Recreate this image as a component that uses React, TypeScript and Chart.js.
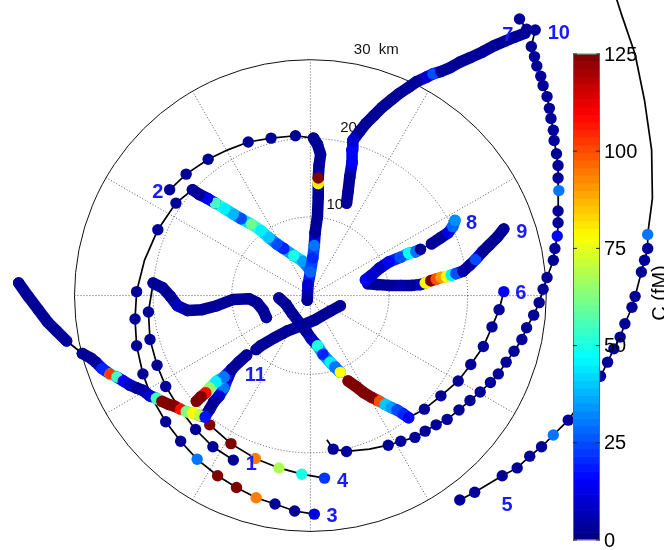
import { useEffect, useRef } from 'react';
import { Chart, registerables } from 'chart.js';

Chart.register(...registerables);

// Each point: [east km, north km, C (fM)]; null C = path vertex without marker
type P = [number, number, number | null];

const track1Dense: P[] = [[-5.6,-2.8,3],[-6.0,-1.9,3],[-6.8,-0.9,3],[-7.8,-0.4,3],[-9.8,-0.5,3],[-11.9,-1.3,3],[-13.8,-1.8,3],[-15.6,-1.9,3],[-16.9,-1.3,8],[-17.8,-0.1,3],[-18.8,1.0,3],[-20.0,1.6,3]];
const track1Arc: P[] = [[-20.6,-2.1,3],[-20.4,-5.6,3],[-19.5,-8.9,3],[-18.4,-11.6,3],[-16.6,-14.5,null],[-14.6,-17.1,3],[-12.4,-19.3,3],[-9.8,-21.0,3]];

const track2Dense: P[] = [[-0.4,-0.6,3],[-0.3,1.4,10],[0,3.0,28],[0.3,4.8,20],[0.5,6.4,30],[0.6,8.0,3],[0.9,10.1,3],[1.0,12.6,3],[1.0,14.3,80],[1.0,15.0,125],[1.1,16.6,3],[1.3,18.0,3],[0.9,19.3,3],[0.4,20.1,3]];
const track2Arc: P[] = [[-1.9,20.4,3],[-5.0,20.1,3],[-7.9,19.6,3],[-10.5,18.6,null],[-13.0,17.4,3],[-15.8,15.5,3],[-17.9,13.5,3]];

const track3Dense: P[] = [[-0.3,3.6,30],[-1.0,4.4,35],[-2.1,5.1,50],[-3.4,6.0,20],[-4.3,6.6,25],[-5.3,7.4,40],[-6.3,8.3,45],[-7.5,9.1,60],[-8.8,9.8,25],[-9.8,10.4,38],[-10.9,11.1,45],[-12.1,11.8,55],[-13.1,12.4,15],[-14.1,12.9,3],[-15.0,13.5,3]];
const track3Arc: P[] = [[-17.1,11.8,3],[-19.4,8.4,3],[-21.1,4.5,null],[-22.1,0.5,3],[-22.3,-3.0,3],[-22.1,-6.4,3],[-21.3,-10.0,3],[-20.2,-13.0,null],[-18.4,-16.1,3],[-16.5,-18.6,3],[-14.4,-20.9,30],[-11.8,-23.0,125],[-9.4,-24.5,125],[-6.9,-25.8,94],[-4.5,-26.6,3],[-2.0,-27.5,3],[0.5,-27.9,12]];

const track4DenseA: P[] = [[-37.1,1.6,3],[-35.9,-0.1,3],[-34.6,-1.8,3],[-33.4,-3.4,3],[-32.3,-4.5,3],[-31.0,-5.8,3]];
const track4DenseB: P[] = [[-29.0,-7.4,3],[-27.9,-8.0,3],[-27.3,-8.5,3],[-26.5,-9.3,20],[-25.5,-10.0,102],[-24.6,-10.4,55],[-23.8,-10.9,15],[-23.0,-11.4,8],[-22.1,-11.8,3],[-21.3,-12.1,5],[-20.4,-12.8,10],[-19.6,-13.1,55],[-18.9,-13.5,125],[-18.0,-13.9,125],[-17.3,-14.1,125],[-16.5,-14.5,108],[-15.8,-14.8,62],[-15.0,-15.0,78],[-14.1,-15.3,70],[-13.4,-15.5,18]];
const track4Arc: P[] = [[-12.8,-16.5,125],[-10.1,-18.9,125],[-7.0,-20.8,94],[-4.0,-22.0,68],[-1.1,-22.8,50],[1.8,-23.3,22]];

const track5Arc: P[] = [[19.0,-26.1,3],[20.9,-25.1,3],[24.4,-23.0,3],[26.3,-22.0,3],[27.9,-20.5,3],[29.4,-19.3,3],[30.9,-17.8,30],[32.8,-15.9,3],[34.8,-13.0,3],[36.9,-10.3,3],[37.8,-8.5,3],[38.6,-6.8,3],[39.4,-5.3,3],[40.0,-3.6,3],[40.9,-1.5,3],[41.3,-0.1,3],[42.1,3.0,3],[42.5,4.5,3],[42.9,6.0,3],[42.9,7.8,30],[43.5,12.4,null],[43.4,18.6,null],[42.5,24.9,null],[41.3,30.8,null],[39.6,35.8,null],[38.8,38.3,null]];

const track6DenseA: P[] = [[-4.0,-0.3,3],[-3.1,-1.1,3],[-2.3,-2.3,3],[-1.3,-3.6,3],[-0.5,-4.6,3],[0.1,-5.5,8],[0.9,-6.4,50],[1.6,-7.5,20],[2.5,-8.5,45],[3.1,-9.1,30],[3.8,-9.8,78]];
const track6DenseB: P[] = [[4.8,-10.9,125],[5.8,-11.6,125],[6.8,-12.4,125],[7.8,-13.0,125],[8.8,-13.5,100],[9.5,-13.9,40],[10.3,-14.3,35],[11.0,-14.6,25],[11.8,-15.1,20],[12.5,-15.6,15]];
const track6Arc: P[] = [[14.5,-14.5,3],[16.6,-12.8,3],[18.8,-10.9,3],[20.4,-8.8,3],[22.0,-6.5,3],[23.1,-4.0,3],[24.0,-1.8,3],[24.6,0.5,15]];

const track7Dense: P[] = [[4.6,11.8,3],[4.8,13.3,3],[5.0,15.1,3],[5.3,17.0,14],[5.3,18.6,16],[5.4,19.8,10],[6.3,21.0,3],[7.1,22.0,3],[8.1,23.0,3],[9.1,24.0,3],[10.3,25.0,3],[11.3,25.8,3],[12.5,26.6,3],[13.5,27.3,3],[14.8,27.9,10],[15.6,28.3,25],[16.6,28.6,3],[17.8,29.1,3],[19.0,29.8,3],[20.4,30.4,3],[21.9,31.1,3],[23.4,31.9,3],[24.8,32.5,3],[26.0,33.0,3],[27.3,33.5,3]];

const track8DenseA: P[] = [[7.0,2.0,15],[7.8,2.6,10],[8.8,3.5,8],[10.0,4.3,15],[11.5,4.9,25],[12.5,5.4,48],[13.4,5.6,30],[14.0,5.9,3]];
const track8DenseB: P[] = [[15.4,6.6,3],[16.6,7.4,3],[17.5,8.0,12],[18.1,8.8,28],[18.4,9.6,33]];

const track9Dense: P[] = [[7.3,1.5,5],[8.5,1.4,3],[10.0,1.3,3],[11.5,1.3,5],[12.9,1.3,3],[14.0,1.4,8],[14.6,1.6,78],[15.3,1.9,125],[16.0,2.1,100],[16.6,2.3,90],[17.3,2.4,78],[17.9,2.6,45],[18.5,2.8,25],[19.4,3.1,5],[20.3,3.9,3],[21.0,4.6,25],[21.9,5.6,3],[22.8,6.5,3],[23.8,7.5,3],[24.6,8.5,3]];

const track10Arc: P[] = [[26.6,35.3,3],[27.5,34.0,3],[28.6,33.9,3],[28.1,31.8,3],[28.5,30.5,3],[28.8,29.3,3],[29.3,28.0,3],[29.6,26.8,3],[30.1,25.4,3],[30.4,23.9,3],[30.6,22.6,3],[30.9,21.1,3],[31.0,19.8,3],[31.3,18.1,3],[31.5,16.6,3],[31.5,15.0,3],[31.6,13.4,30],[31.5,10.8,3],[31.5,9.3,3],[31.4,7.6,16],[31.1,6.0,3],[30.9,4.5,3],[30.1,2.3,3],[29.6,0.8,3],[29.1,-0.9,3],[28.4,-2.5,3],[27.5,-4.1,3],[26.9,-5.6,3],[25.9,-7.1,3],[24.9,-8.5,3],[23.9,-10.0,3],[22.9,-11.1,3],[21.6,-12.3,3],[20.3,-13.4,3],[18.9,-14.6,3],[17.4,-15.8,3],[16.0,-16.5,3],[14.6,-17.3,3],[13.3,-18.1,3],[11.5,-18.6,3],[9.9,-19.1,3],[7.5,-19.6,null],[4.6,-19.9,3],[2.9,-19.6,3],[2.1,-18.4,null]];

const track11DenseA: P[] = [[3.8,-1.3,3],[2.5,-2.0,3],[0.6,-3.1,3],[-1.3,-3.9,3],[-2.9,-4.5,3],[-4.6,-5.4,3],[-6.3,-6.4,3],[-6.9,-6.9,3]];
const track11DenseB: P[] = [[-8.1,-7.6,3],[-9.1,-8.5,3],[-10.0,-9.4,3],[-11.0,-10.4,30],[-12.0,-11.0,45],[-12.8,-11.8,65],[-13.3,-12.4,108],[-13.9,-12.9,125],[-14.5,-13.5,125]];
const track11DenseC: P[] = [[-10.0,-9.4,3],[-10.5,-10.5,8],[-11.0,-11.8,30],[-11.6,-12.8,10],[-12.3,-13.6,3],[-12.8,-14.5,3],[-13.4,-15.4,18]];

// Track number labels: [text, east km, north km]
const trackLabels: [string, number, number][] = [
  ['1', -7.5, -21.5], ['2', -19.4, 13.1], ['3', 2.75, -28.25], ['4', 4.1, -23.75],
  ['5', 25.0, -26.75], ['6', 26.75, 0.25], ['7', 25.1, 33.25], ['8', 20.5, 9.25],
  ['9', 26.9, 8.1], ['10', 31.6, 33.5], ['11', -7.0, -10.25],
];

const ringRadii = [10, 20, 30];
const ringLabels = ['10', '20', '30  km'];
const spokeAngles = [0, 30, 60, 90, 120, 150];
const colorbarTicks = [0, 25, 50, 75, 100, 125];
const cMin = 0;
const cMax = 125;

const tracks = [
  { dense: [track1Dense], sparse: [track1Arc], lines: [[...track1Dense, ...track1Arc]] },
  { dense: [track2Dense], sparse: [track2Arc], lines: [[...track2Dense, ...track2Arc]] },
  { dense: [track3Dense], sparse: [track3Arc], lines: [[...track3Dense, ...track3Arc]] },
  { dense: [track4DenseA, track4DenseB], sparse: [track4Arc], lines: [[...track4DenseA, ...track4DenseB, ...track4Arc]] },
  { dense: [], sparse: [track5Arc], lines: [track5Arc] },
  { dense: [track6DenseA, track6DenseB], sparse: [track6Arc], lines: [[...track6DenseA, ...track6DenseB, ...track6Arc]] },
  { dense: [track7Dense], sparse: [], lines: [track7Dense] },
  { dense: [track8DenseA, track8DenseB], sparse: [], lines: [[...track8DenseA, ...track8DenseB]] },
  { dense: [track9Dense], sparse: [], lines: [track9Dense] },
  { dense: [], sparse: [track10Arc], lines: [track10Arc] },
  { dense: [track11DenseA, track11DenseB, track11DenseC], sparse: [], lines: [[...track11DenseA, ...track11DenseB], track11DenseC] },
];

function jetRGB(t: number): [number, number, number] {
  const tt = Math.max(0, Math.min(1, t));
  const f = (a: number) => Math.round(255 * Math.max(0, Math.min(1, 1.5 - Math.abs(4 * tt - a))));
  return [f(3), f(2), f(1)];
}
function jet(v: number | null): string {
  const [r, g, b] = jetRGB(((v ?? 0) - cMin) / (cMax - cMin));
  return `rgb(${r},${g},${b})`;
}
function segValue(a: number, b: number): number {
  return Math.abs(a - b) < 40 ? (a + b) / 2 : Math.min(a, b);
}

const FONT = "'Liberation Sans', Arial, Helvetica, sans-serif";
const DOT = 5.7;

export default function App() {
  const ref = useRef<HTMLCanvasElement | null>(null);

  useEffect(() => {
    const canvas = ref.current;
    if (!canvas) return;
    const toXY = (pts: P[]) => pts.map((p) => ({ x: p[0], y: p[1] }));
    const datasets: any[] = [];

    tracks.forEach((t) => {
      t.dense.forEach((part) => {
        datasets.push({
          type: 'line',
          data: toXY(part),
          order: 1,
          borderWidth: 11.5,
          borderCapStyle: 'round',
          borderJoinStyle: 'round',
          borderColor: jet(part[0][2]),
          segment: {
            borderColor: (ctx: any) =>
              jet(segValue(part[ctx.p0DataIndex][2] ?? 0, part[ctx.p1DataIndex][2] ?? 0)),
          },
          pointRadius: DOT,
          pointHoverRadius: DOT,
          pointBorderWidth: 0,
          pointBackgroundColor: part.map((p) => jet(p[2])),
          tension: 0,
          fill: false,
          clip: false,
        });
      });
      t.sparse.forEach((part) => {
        datasets.push({
          type: 'scatter',
          data: toXY(part),
          order: 2,
          showLine: false,
          pointRadius: part.map((p) => (p[2] == null ? 0 : DOT)),
          pointHoverRadius: part.map((p) => (p[2] == null ? 0 : DOT)),
          pointBorderWidth: 0,
          pointBackgroundColor: part.map((p) => jet(p[2])),
          clip: false,
        });
      });
      t.lines.forEach((path) => {
        datasets.push({
          type: 'line',
          data: toXY(path),
          order: 3,
          borderColor: '#000',
          borderWidth: 1.7,
          pointRadius: 0,
          pointHoverRadius: 0,
          tension: 0,
          fill: false,
          clip: false,
        });
      });
    });

    const polarGrid = {
      id: 'polarGrid',
      beforeDatasetsDraw(chart: any) {
        const { ctx, scales } = chart;
        const xs = scales.x, ys = scales.y;
        const cx = xs.getPixelForValue(0), cy = ys.getPixelForValue(0);
        const k = xs.getPixelForValue(1) - cx;
        const rOut = ringRadii[ringRadii.length - 1] * k;
        ctx.save();
        ctx.strokeStyle = 'rgba(0,0,0,0.65)';
        ctx.lineWidth = 1;
        ctx.setLineDash([1, 2]);
        spokeAngles.forEach((a) => {
          const r = (a * Math.PI) / 180;
          ctx.beginPath();
          ctx.moveTo(cx - rOut * Math.cos(r), cy + rOut * Math.sin(r));
          ctx.lineTo(cx + rOut * Math.cos(r), cy - rOut * Math.sin(r));
          ctx.stroke();
        });
        ringRadii.slice(0, -1).forEach((rr) => {
          ctx.beginPath();
          ctx.arc(cx, cy, rr * k, 0, Math.PI * 2);
          ctx.stroke();
        });
        ctx.setLineDash([]);
        ctx.strokeStyle = '#111';
        ctx.beginPath();
        ctx.arc(cx, cy, rOut, 0, Math.PI * 2);
        ctx.stroke();
        ctx.fillStyle = '#111';
        ctx.font = `15px ${FONT}`;
        ctx.textAlign = 'left';
        ctx.textBaseline = 'middle';
        const la = (80 * Math.PI) / 180;
        ringRadii.forEach((rr, i) => {
          const r = rr + 1.8;
          ctx.fillText(ringLabels[i], xs.getPixelForValue(r * Math.cos(la)), ys.getPixelForValue(r * Math.sin(la)));
        });
        ctx.restore();
      },
      afterDatasetsDraw(chart: any) {
        const { ctx, scales } = chart;
        const xs = scales.x, ys = scales.y;
        ctx.save();
        ctx.fillStyle = '#1a1aff';
        ctx.font = `bold 20px ${FONT}`;
        ctx.textAlign = 'center';
        ctx.textBaseline = 'middle';
        trackLabels.forEach(([s, x, y]) => {
          ctx.fillText(s, xs.getPixelForValue(x), ys.getPixelForValue(y));
        });

        // colorbar
        const left = 573, right = 600, top = 54, bottom = 540;
        const n = 64;
        const h = (bottom - top) / n;
        for (let i = 0; i < n; i++) {
          const [r, g, b] = jetRGB((i + 0.5) / n);
          ctx.fillStyle = `rgb(${r},${g},${b})`;
          ctx.fillRect(left, bottom - (i + 1) * h - 0.3, right - left, h + 0.6);
        }
        ctx.strokeStyle = '#666';
        ctx.lineWidth = 1;
        ctx.strokeRect(left + 0.5, top + 0.5, right - left - 1, bottom - top - 1);
        ctx.fillStyle = '#000';
        ctx.font = `20px ${FONT}`;
        ctx.textAlign = 'left';
        ctx.textBaseline = 'middle';
        ctx.strokeStyle = '#222';
        colorbarTicks.forEach((v) => {
          const y = bottom - ((v - cMin) / (cMax - cMin)) * (bottom - top);
          ctx.beginPath();
          ctx.moveTo(left, y); ctx.lineTo(left + 4, y);
          ctx.moveTo(right - 4, y); ctx.lineTo(right, y);
          ctx.stroke();
          ctx.fillText(String(v), right + 4, y + 1);
        });
        ctx.save();
        ctx.translate(660, 293);
        ctx.rotate(-Math.PI / 2);
        ctx.textAlign = 'center';
        ctx.textBaseline = 'middle';
        ctx.font = `20px ${FONT}`;
        ctx.fillText('C (fM)', 0, 0);
        ctx.restore();
        ctx.restore();
      },
    };

    const chart = new Chart(canvas, {
      type: 'scatter',
      data: { datasets },
      options: {
        responsive: false,
        animation: false,
        events: [],
        layout: { padding: 0 },
        plugins: { legend: { display: false }, tooltip: { enabled: false } },
        scales: {
          x: { type: 'linear', min: -38.75, max: 44.25, display: false },
          y: { type: 'linear', min: -31.75, max: 37, display: false },
        },
      },
      plugins: [polarGrid],
    } as any);
    return () => chart.destroy();
  }, []);

  return (
    <div style={{ position: 'absolute', left: 0, top: 0, width: 664, height: 550, background: '#fff' }}>
      <canvas ref={ref} width={664} height={550} style={{ display: 'block', width: 664, height: 550 }} />
    </div>
  );
}
